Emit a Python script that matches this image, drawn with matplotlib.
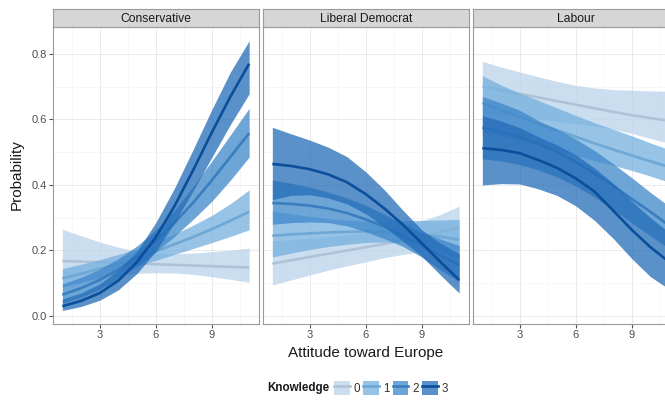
import matplotlib
matplotlib.use("Agg")
import matplotlib.pyplot as plt
from matplotlib.patches import Patch
from matplotlib.lines import Line2D
from matplotlib.legend_handler import HandlerTuple

plt.rcParams['font.family'] = ['Liberation Sans', 'DejaVu Sans']

# ---------------- data ----------------
x = [1, 2, 3, 4, 5, 6, 7, 8, 9, 10, 11]
parties = ["Conservative", "Liberal Democrat", "Labour"]
levels = ["0", "1", "2", "3"]

# Conservative
con_mid = [
    [.168, .166, .164, .162, .160, .158, .156, .154, .152, .150, .148],
    [.115, .129, .144, .160, .178, .197, .219, .241, .265, .291, .318],
    [.065, .085, .110, .142, .182, .229, .284, .346, .414, .486, .558],
    [.030, .046, .070, .108, .165, .240, .335, .445, .560, .670, .770],
]
con_lo = [
    [.090, .103, .115, .124, .130, .132, .131, .127, .120, .112, .103],
    [.088, .102, .117, .134, .152, .170, .188, .206, .224, .243, .263],
    [.040, .058, .082, .113, .152, .195, .243, .295, .350, .415, .485],
    [.017, .029, .048, .080, .130, .198, .284, .382, .484, .585, .678],
]
con_hi = [
    [.265, .245, .226, .210, .198, .192, .190, .192, .196, .201, .207],
    [.145, .158, .172, .188, .205, .226, .250, .277, .307, .343, .385],
    [.098, .118, .143, .175, .214, .262, .323, .395, .473, .553, .634],
    [.052, .070, .098, .140, .198, .285, .390, .508, .630, .745, .840],
]

# Liberal Democrat
ld_mid = [
    [.160, .170, .180, .190, .200, .210, .220, .232, .244, .257, .270],
    [.245, .249, .252, .255, .257, .258, .257, .254, .249, .242, .233],
    [.345, .342, .337, .328, .314, .295, .272, .245, .215, .185, .155],
    [.464, .458, .448, .432, .408, .372, .328, .278, .222, .165, .110],
]
ld_lo = [
    [.095, .110, .125, .140, .153, .165, .178, .188, .196, .200, .202],
    [.180, .192, .203, .212, .219, .224, .226, .224, .215, .197, .175],
    [.280, .285, .287, .285, .275, .257, .236, .212, .180, .140, .105],
    [.355, .368, .370, .360, .342, .312, .272, .228, .182, .125, .070],
]
ld_hi = [
    [.230, .233, .237, .242, .248, .255, .263, .275, .290, .310, .335],
    [.320, .312, .304, .297, .292, .290, .290, .291, .292, .293, .295],
    [.415, .405, .393, .378, .360, .338, .310, .282, .255, .235, .215],
    [.576, .556, .537, .515, .486, .440, .385, .322, .263, .222, .190],
]

# Labour
lab_mid = [
    [.700, .690, .678, .667, .656, .645, .634, .623, .613, .604, .596],
    [.650, .628, .607, .587, .567, .547, .527, .508, .490, .472, .455],
    [.575, .561, .545, .525, .500, .470, .436, .398, .357, .318, .276],
    [.512, .507, .497, .476, .452, .420, .380, .322, .263, .210, .165],
]
lab_lo = [
    [.615, .612, .607, .601, .594, .587, .580, .570, .557, .542, .527],
    [.560, .550, .537, .522, .506, .490, .474, .460, .444, .427, .408],
    [.480, .473, .462, .446, .424, .397, .363, .325, .284, .245, .205],
    [.400, .404, .403, .388, .368, .336, .292, .237, .175, .120, .082],
]
lab_hi = [
    [.777, .760, .745, .730, .716, .704, .696, .691, .689, .687, .686],
    [.733, .705, .680, .658, .635, .612, .590, .570, .550, .528, .508],
    [.670, .650, .628, .596, .570, .540, .505, .465, .422, .377, .335],
    [.612, .595, .575, .547, .522, .492, .452, .405, .350, .300, .255],
]

panel_data = [
    (con_mid, con_lo, con_hi),
    (ld_mid, ld_lo, ld_hi),
    (lab_mid, lab_lo, lab_hi),
]

x_ticks = [3, 6, 9]
y_ticks = [0.0, 0.2, 0.4, 0.6, 0.8]

# ---------------- style ----------------
fill_colors = ["#BAD3EA", "#73AFDE", "#3E87CA", "#236CB8"]
line_colors = ["#AFC3D8", "#6FA8D4", "#3A7EC0", "#0B4F9C"]
fill_alpha = 0.75

W, H = 665, 404
fig = plt.figure(figsize=(W / 100, H / 100), dpi=100)

panel_left = [53, 263, 473]
panel_w = 205.5
top_px, bot_px = 27, 324
strip_h = 18

for i, party in enumerate(parties):
    L = panel_left[i]
    ax = fig.add_axes([L / W, 1 - bot_px / H, panel_w / W, (bot_px - top_px) / H])
    mids, los, his = panel_data[i]
    for k in range(4):
        ax.fill_between(x, los[k], his[k], color=fill_colors[k], alpha=fill_alpha,
                        linewidth=0, zorder=2 + 2 * k)
        ax.plot(x, mids[k], color=line_colors[k], linewidth=1.9,
                solid_capstyle='butt', solid_joinstyle='round', zorder=3 + 2 * k)
    ax.set_xlim(0.5, 11.5)
    ax.set_ylim(-0.0244, 0.882)
    ax.set_xticks(x_ticks)
    ax.set_xticks([1.5, 4.5, 7.5, 10.5], minor=True)
    ax.set_yticks(y_ticks)
    ax.set_yticks([0.1, 0.3, 0.5, 0.7], minor=True)
    ax.grid(which='major', color='#E6E6E6', linewidth=0.6, zorder=0)
    ax.grid(which='minor', color='#F4F4F4', linewidth=0.5, zorder=0)
    ax.set_axisbelow(True)
    for s in ax.spines.values():
        s.set_color('#9A9A9A')
        s.set_linewidth(0.8)
    ax.tick_params(axis='both', which='minor', length=0)
    ax.tick_params(axis='x', which='major', length=3, width=0.8, color='#555555',
                   labelsize=8, labelcolor='#4D4D4D', pad=1.5)
    if i == 0:
        ax.set_yticklabels([f"{v:.1f}" for v in y_ticks])
        ax.tick_params(axis='y', which='major', length=3, width=0.8, color='#555555',
                       labelsize=8, labelcolor='#4D4D4D', pad=1.5)
    else:
        ax.tick_params(axis='y', which='major', length=0, labelleft=False)

    sax = fig.add_axes([L / W, 1 - top_px / H, panel_w / W, strip_h / H])
    sax.set_facecolor('#D6D6D6')
    sax.set_xticks([])
    sax.set_yticks([])
    for s in sax.spines.values():
        s.set_color('#9A9A9A')
        s.set_linewidth(0.8)
    sax.text(0.5, 0.47, party, ha='center', va='center', fontsize=8.7,
             color='#1A1A1A', transform=sax.transAxes)

# axis titles
fig.text(365.5 / W, 1 - 353 / H, "Attitude toward Europe", ha='center', va='center',
         fontsize=11, color='#1A1A1A')
fig.text(17 / W, 1 - 175 / H, "Probability", ha='center', va='center',
         rotation=90, fontsize=11, color='#1A1A1A')

# legend
handles = []
for k in range(4):
    handles.append((Patch(facecolor=fill_colors[k], alpha=fill_alpha, edgecolor='none'),
                    Line2D([], [], color=line_colors[k], linewidth=1.9)))
leg = fig.legend(handles, levels, handler_map={tuple: HandlerTuple(ndivide=1, pad=0)},
                 loc='center left', bbox_to_anchor=(334 / W, 1 - 388 / H), ncol=4,
                 frameon=False, fontsize=8.4, handlelength=1.35, handleheight=1.55,
                 handletextpad=0.32, columnspacing=0.28, borderpad=0, borderaxespad=0)
for t in leg.get_texts():
    t.set_color('#333333')
fig.text(329 / W, 1 - 388 / H, "Knowledge", ha='right', va='center', fontsize=8.4,
         fontweight='bold', color='#1A1A1A')

fig.savefig("out.png", dpi=100)
